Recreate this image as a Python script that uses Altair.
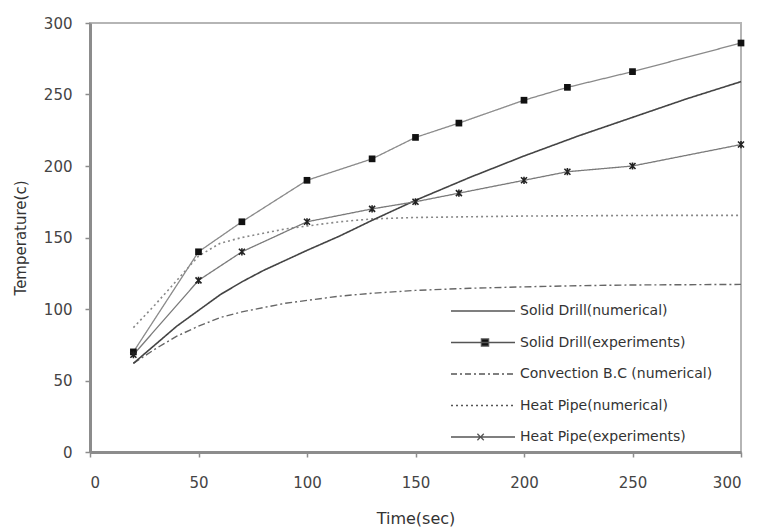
import altair as alt
import pandas as pd

# ---- data ----
series_names = [
    "Solid Drill(numerical)",
    "Solid Drill(experiments)",
    "Convection B.C (numerical)",
    "Heat Pipe(numerical)",
    "Heat Pipe(experiments)",
]

time_exp = [20, 50, 70, 100, 130, 150, 170, 200, 220, 250, 300]
solid_exp = [70, 140, 161, 190, 205, 220, 230, 246, 255, 266, 286]
heat_exp = [68, 120, 140, 161, 170, 175, 181, 190, 196, 200, 215]

time_num = [20, 30, 40, 50, 60, 70, 80, 90, 100, 115, 130, 150, 175, 200, 225, 250, 275, 300]
solid_num = [62, 75, 88, 99, 110, 119, 127, 134, 141, 151, 162, 176, 192, 207, 221, 234, 247, 259]
conv_num = [62, 72, 81, 88, 94, 98, 101, 104, 106, 109, 111, 113, 114.5, 115.5, 116.3, 116.8, 117, 117.2]
heat_num = [87, 103, 120, 137, 146, 150, 153, 156, 158, 161, 163, 164, 164.5, 165, 165.2, 165.4, 165.5, 165.5]

x_ticks = [0, 50, 100, 150, 200, 250, 300]
y_ticks = [0, 50, 100, 150, 200, 250, 300]

FONT = "DejaVu Sans"

def frame(t, v, name):
    return pd.DataFrame({"Time": t, "Temp": v, "series": name})

df_solid_num = frame(time_num, solid_num, series_names[0])
df_solid_exp = frame(time_exp, solid_exp, series_names[1])
df_conv_num = frame(time_num, conv_num, series_names[2])
df_heat_num = frame(time_num, heat_num, series_names[3])
df_heat_exp = frame(time_exp, heat_exp, series_names[4])

x_enc = alt.X(
    "Time:Q",
    scale=alt.Scale(domain=[0, 300], nice=False),
    axis=alt.Axis(
        title="Time(sec)", values=x_ticks, grid=False,
        titleX=325.5, titleY=66, titleBaseline="middle", titleAnchor="middle",
        labelBaseline="middle", labelPadding=25,
    ),
)
y_enc = alt.Y(
    "Temp:Q",
    scale=alt.Scale(domain=[0, 300], nice=False),
    axis=alt.Axis(
        title="Temperature(c)", values=y_ticks, grid=False,
        titleX=-70, titleY=214.5, titleBaseline="middle", titleAnchor="middle",
        titleFontSize=15, labelPadding=13,
    ),
)

def line(df, color, width, dash):
    return alt.Chart(df).mark_line(color=color, strokeWidth=width, strokeDash=dash).encode(x=x_enc, y=y_enc)

l_solid_num = line(df_solid_num, "#444444", 1.6, [1, 0])
l_solid_exp = line(df_solid_exp, "#8a8a8a", 1.3, [1, 0])
l_conv_num = line(df_conv_num, "#666666", 1.4, [7, 3, 2, 3])
l_heat_num = line(df_heat_num, "#888888", 1.6, [2, 3])
l_heat_exp = line(df_heat_exp, "#7a7a7a", 1.3, [1, 0])

p_solid_exp = alt.Chart(df_solid_exp).mark_point(
    shape="square", filled=True, color="#111111", size=45, opacity=1
).encode(x=x_enc, y=y_enc)

star_path = "M-1,-1L1,1M-1,1L1,-1M0,-1.2V1.2"
p_heat_exp = alt.Chart(df_heat_exp).mark_point(
    shape=star_path, filled=False, stroke="#222222", strokeWidth=1.6, size=36, opacity=1
).encode(x=x_enc, y=y_enc)

# legend carrier (invisible marks, legend only)
legend_shapes = [
    "M-14.5,0H1.5",
    "M-14.5,0H1.5M-6.9,-0.9H-5.1V0.9H-6.9Z",
    "M-14.5,0H1.5",
    "M-14.5,0H1.5",
    "M-14.5,0H1.5M-7.9,-0.8L-6.3,0.8M-7.9,0.8L-6.3,-0.8",
]
legend_dash = [[1, 0], [1, 0], [6, 3, 2, 3], [2, 3], [1, 0]]
df_leg = pd.DataFrame({"series": series_names})

def legend_spec():
    return alt.Legend(
        title=None, orient="none", legendX=412, legendY=281,
        symbolSize=64, symbolOpacity=1, labelFont=FONT, labelFontSize=14,
        labelColor="#333333", rowPadding=17.5, labelOffset=4, padding=0,
        symbolStrokeWidth=1.3, labelLimit=0,
    )

leg = alt.Chart(df_leg).mark_point(
    filled=True, fill="#111111", stroke="#555555", strokeWidth=1.3
).encode(
    shape=alt.Shape(
        "series:N",
        scale=alt.Scale(domain=series_names, range=legend_shapes),
        legend=legend_spec(),
    ),
    strokeDash=alt.StrokeDash(
        "series:N",
        scale=alt.Scale(domain=series_names, range=legend_dash),
        legend=legend_spec(),
    ),
    opacity=alt.value(0),
)

chart = alt.layer(
    l_conv_num, l_heat_num, l_solid_num, l_solid_exp, l_heat_exp,
    p_solid_exp, p_heat_exp, leg,
).properties(
    width=651, height=429,
    autosize=alt.AutoSizeParams(type="none"),
    padding={"left": 82, "top": 15, "right": 5, "bottom": 75},
).configure_view(
    stroke="#b5b5b5", strokeWidth=2,
).configure_axis(
    labelFont=FONT, labelFontSize=15, labelColor="#444444",
    titleFont=FONT, titleFontSize=16, titleColor="#333333", titleFontWeight="normal",
    domainColor="#8c8c8c", domainWidth=3, tickColor="#8c8c8c", tickSize=5, tickWidth=1.5,
)

chart.save("out.html", embed_options={"renderer": "svg", "actions": False})
